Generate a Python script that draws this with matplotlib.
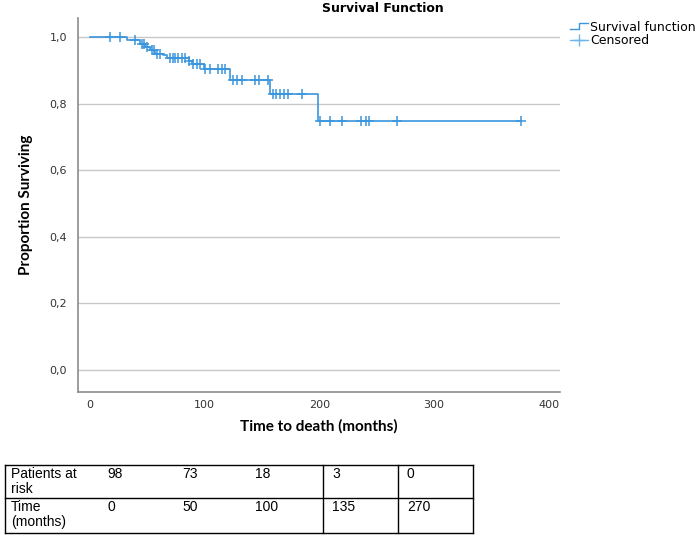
import numpy as np
import matplotlib
matplotlib.use("Agg")
import matplotlib.pyplot as plt
from matplotlib.lines import Line2D
from matplotlib.legend_handler import HandlerBase

# ---- data ----
step_times = [0, 32, 44, 48, 52, 57, 64, 67, 86, 89, 99, 122, 157, 199]
survival = [1.0, 0.99, 0.98, 0.97, 0.96, 0.95, 0.945, 0.937, 0.928, 0.918, 0.905, 0.87, 0.828, 0.748]
censor_times = [17, 26, 39, 45, 47, 50, 54, 56, 58.5, 61, 70, 72, 74, 77, 80, 83, 86.5,
                90, 93.5, 96, 100, 105, 112, 115, 118, 125, 128, 133, 144, 147, 155,
                160, 162, 166, 169, 173, 185, 201, 209, 220, 236, 241, 243, 268, 376]
x_ticks = [0, 100, 200, 300, 400]
y_ticks = [0.0, 0.2, 0.4, 0.6, 0.8, 1.0]
risk_label = "Patients at\nrisk"
time_label = "Time\n(months)"
patients_at_risk = ["98", "73", "18", "3", "0"]
risk_times = ["0", "50", "100", "135", "270"]

BLUE = "#3a96de"
W, H = 698, 536
fig = plt.figure(figsize=(W / 100, H / 100), dpi=100)
ax = fig.add_axes([78 / W, 1 - 392 / H, (560 - 78) / W, (392 - 18) / H])

# survival curve
end_t = max(censor_times)
t_line = list(step_times) + [end_t]
s_line = list(survival) + [survival[-1]]
ax.step(t_line, s_line, where="post", color=BLUE, lw=1.2, zorder=3)
idx = np.searchsorted(np.array(step_times), np.array(censor_times), side="right") - 1
c_s = np.array(survival)[idx]
ax.plot(censor_times, c_s, ls="none", marker="+", ms=6.5, mew=1.1, color=BLUE, zorder=4)

ax.set_xlim(-10.5, 410)
ax.set_ylim(-0.066, 1.057)
ax.set_xticks(x_ticks)
ax.set_xticklabels([str(v) for v in x_ticks])
ax.set_yticks(y_ticks)
ax.set_yticklabels([f"{v:.1f}".replace(".", ",") for v in y_ticks])
ax.tick_params(length=0, labelsize=8, colors="#333333", pad=8)
ax.tick_params(axis="x", pad=6)
ax.grid(axis="y", color="#c8c8c8", lw=1)
ax.set_axisbelow(True)
for s in ["top", "right"]:
    ax.spines[s].set_visible(False)
for s in ["left", "bottom"]:
    ax.spines[s].set_color("#8c8c8c")
    ax.spines[s].set_linewidth(1.2)

ax.set_xlabel("Time to death (months)", fontsize=11, fontweight="bold",
              family="Lato", labelpad=6)
ax.set_ylabel("Proportion Surviving", fontsize=11, fontweight="bold",
              family="Lato", labelpad=12)
fig.text(383 / W, 1 - 9 / H, "Survival Function", ha="center", va="center",
         fontsize=9, fontweight="bold")


class HandlerStep(HandlerBase):
    def create_artists(self, legend, orig_handle, xd, yd, width, height, fontsize, trans):
        xs = [-xd, -xd + width * 0.5, -xd + width * 0.5, -xd + width]
        ys = [height * 0.2, height * 0.2, height * 0.9, height * 0.9]
        ln = Line2D(xs, ys, color=BLUE, lw=1.0, transform=trans)
        return [ln]


h1 = Line2D([], [], color=BLUE)
h2 = Line2D([0], [0], color="#6fb7ea", marker="+", ms=8, lw=1.0)
fig.legend([h1, h2], ["Survival function", "Censored"],
           handler_map={h1: HandlerStep()},
           loc="upper left", bbox_to_anchor=(570 / W, 1 - 21 / H), frameon=False,
           fontsize=9, handlelength=1.4, handletextpad=0.2, labelspacing=0.0,
           borderaxespad=0, borderpad=0)

# ---- at-risk table ----
def fx(p):
    return p / W

def fy(p):
    return 1 - p / H

tl, tr = 5, 473
y_top, y_mid, y_bot = 465, 498, 533
lk = dict(color="black", lw=1.0, transform=fig.transFigure)
for yy in (y_top, y_mid, y_bot):
    fig.add_artist(Line2D([fx(tl), fx(tr)], [fy(yy), fy(yy)], **lk))
for xx in (tl, 323, 398, tr):
    fig.add_artist(Line2D([fx(xx), fx(xx)], [fy(y_top), fy(y_bot)], **lk))

col_x = [107, 182, 255, 332, 407]
tk = dict(fontsize=10, family="Liberation Sans", va="top", ha="left", linespacing=1.05)
fig.text(fx(11), fy(467), risk_label, **tk)
fig.text(fx(11), fy(500), time_label, **tk)
for x, a, b in zip(col_x, patients_at_risk, risk_times):
    fig.text(fx(x), fy(467), a, **tk)
    fig.text(fx(x), fy(500), b, **tk)

fig.savefig("out.png", dpi=100)
